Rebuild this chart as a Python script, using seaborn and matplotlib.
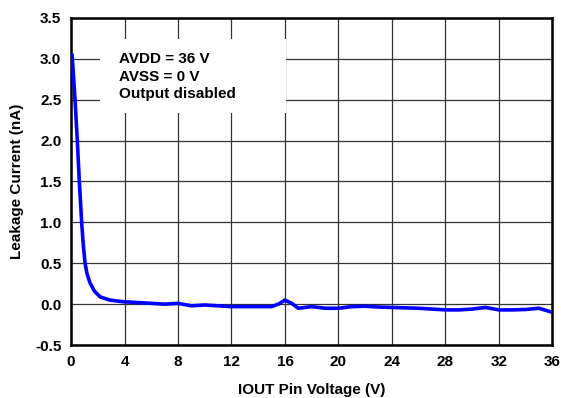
import numpy as np
import pandas as pd
import matplotlib
matplotlib.use("Agg")
import matplotlib.pyplot as plt
import seaborn as sns
from matplotlib.patches import Rectangle

# Leakage current vs IOUT pin voltage
voltage = [0.08, 0.3, 0.47, 0.62, 0.8, 0.92, 1.05, 1.2, 1.42, 1.75, 2.17, 2.9, 3.9,
           5, 6, 7, 8, 9, 10, 11, 12, 13, 14, 15, 15.5, 16, 16.5, 17, 18, 19, 20, 21,
           22, 23, 24, 25, 26, 27, 28, 29, 30, 31, 32, 33, 34, 35, 36]
leakage = [3.05, 2.5, 2.0, 1.5, 0.99, 0.72, 0.5, 0.37, 0.26, 0.16, 0.09, 0.05, 0.03,
           0.02, 0.01, 0.0, 0.01, -0.02, -0.01, -0.02, -0.03, -0.03, -0.03, -0.03,
           0.0, 0.05, 0.01, -0.05, -0.03, -0.05, -0.05, -0.03, -0.025, -0.035, -0.04,
           -0.045, -0.05, -0.06, -0.07, -0.07, -0.06, -0.04, -0.07, -0.07, -0.065,
           -0.05, -0.1]
x_ticks = [0, 4, 8, 12, 16, 20, 24, 28, 32, 36]
y_ticks = [-0.5, 0.0, 0.5, 1.0, 1.5, 2.0, 2.5, 3.0, 3.5]
note_lines = ["AVDD = 36 V", "AVSS = 0 V", "Output disabled"]

df = pd.DataFrame({"voltage": voltage, "leakage": leakage})

sns.set_style("white")
plt.rcParams["font.family"] = ["Liberation Sans", "DejaVu Sans"]
plt.rcParams["font.weight"] = "bold"
plt.rcParams["text.color"] = "black"
plt.rcParams["axes.labelcolor"] = "black"
plt.rcParams["xtick.color"] = "black"
plt.rcParams["ytick.color"] = "black"

fig = plt.figure(figsize=(5.61, 3.98), dpi=100)
ax = fig.add_axes([0.1266, 0.133, 0.858, 0.822])

sns.lineplot(data=df, x="voltage", y="leakage", ax=ax, color="#0000ff",
             linewidth=2.6, zorder=3)

ax.set_xlim(0, 36)
ax.set_ylim(-0.5, 3.5)
ax.set_xticks(x_ticks)
ax.set_yticks(y_ticks)
ax.set_yticklabels([f"{v:.1f}" for v in y_ticks])
ax.grid(True, color="#333333", linewidth=0.9)
ax.set_axisbelow(True)
ax.tick_params(length=0, labelsize=11, pad=7)
for lab in ax.get_xticklabels() + ax.get_yticklabels():
    lab.set_fontweight("bold")
for s in ax.spines.values():
    s.set_color("black")
    s.set_linewidth(1.8)

ax.set_xlabel("IOUT Pin Voltage (V)", fontsize=11, fontweight="bold", labelpad=10)
ax.set_ylabel("Leakage Current (nA)", fontsize=11, fontweight="bold", labelpad=8)

# white box behind the conditions note
ax.add_patch(Rectangle((0.06, 0.71), 0.387, 0.225, transform=ax.transAxes,
                       facecolor="white", edgecolor="none", zorder=2))
for i, line in enumerate(note_lines):
    ax.text(0.1, 0.862 - i * 0.054, line, transform=ax.transAxes, fontsize=11,
            fontweight="bold", va="baseline", ha="left", zorder=4)

fig.savefig("out.png", dpi=100)
